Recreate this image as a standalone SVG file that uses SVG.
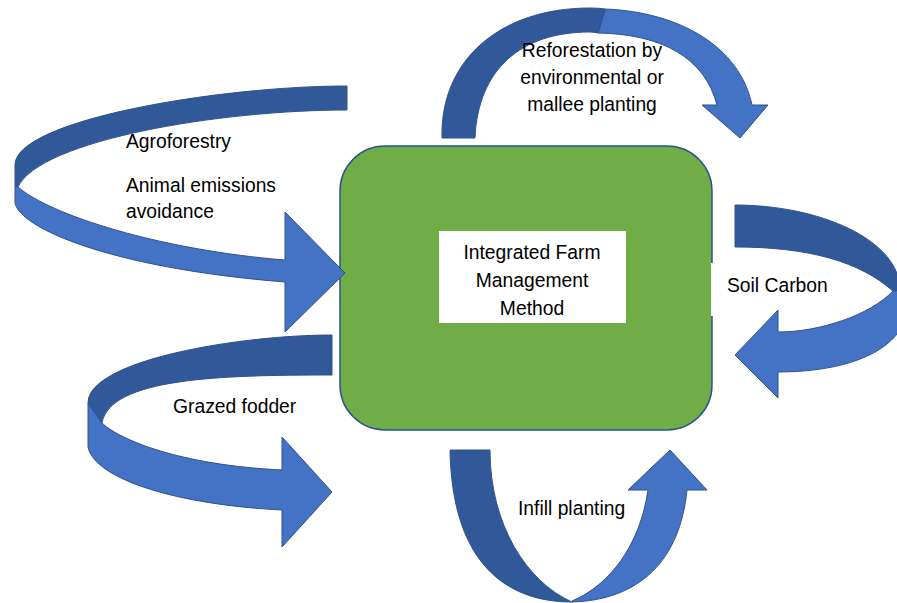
<svg xmlns="http://www.w3.org/2000/svg" width="897" height="603" viewBox="0 0 897 603">
<style>
.dark{fill:#31599A;stroke:#2F528F;stroke-width:1;stroke-linejoin:round}
.light{fill:#4472C4;stroke:#2F528F;stroke-width:1;stroke-linejoin:round}
.lbl{font-family:"Liberation Sans",Arial,sans-serif;font-size:19.3px;fill:#000}
.mid{text-anchor:middle}
</style>
<rect width="897" height="603" fill="#fff"/>
<g id="farm">
<rect x="340" y="146" width="372" height="284" rx="45" ry="45" fill="#70AD47" stroke="#2F528F" stroke-width="1.5"/>
<rect x="439" y="231" width="187" height="92" fill="#fff"/>
<text class="lbl mid" x="532" y="259">Integrated Farm</text>
<text class="lbl mid" x="532" y="287">Management</text>
<text class="lbl mid" x="532" y="315">Method</text>
</g>
<g id="connectors">
<g id="arrow-agroforestry">
<path class="light" d="M15,185 L15,203 C20,228 110,268 285,282 L285,332 L345,273 L285,212 L285,260 C160,250 50,215 18,187 Z"/>
<path class="dark" d="M347,86 C220,86 15,120 15,165 L15,185 L18,187 C40,140 220,110 347,110 Z"/>
</g>
<g id="arrow-grazed">
<path class="light" d="M88,403 L88,447 C95,480 180,505 282,510 L282,547 L332,492 L282,437 L282,470 C180,465 120,440 102,423 Z"/>
<path class="dark" d="M332,335 C240,335 88,360 88,403 L102,423 C110,378 220,375 332,375 Z"/>
</g>
<g id="arrow-reforestation">
<path class="light" d="M605,9 C680,12 740,47 752,105 L768,105 L740,138 L702,105 L717,105 C705,58 662,34 598,33 Z"/>
<path class="dark" d="M442,138 C440,60 500,8 590,8 Q600,8 605,9 L598,33 Q594,32 590,32 C520,32 478,70 475,138 Z"/>
</g>
<g id="soil-bg"><rect x="711" y="263" width="110" height="53" fill="#fff"/></g>
<g id="arrow-soil">
<path class="light" d="M900,290 L900,330 C880,360 830,372 778,372 L778,398 L735,355 L778,310 L778,332 C820,332 870,315 893,291 Z"/>
<path class="dark" d="M735,205 C820,205 900,240 900,290 L893,291 C860,262 810,247 735,247 Z"/>
</g>
<g id="arrow-infill">
<path class="light" d="M572,602 C640,600 680,560 687,490 L707,490 L670,450 L628,490 L648,490 C640,545 610,585 572,601 Z"/>
<path class="dark" d="M450,450 C452,562 505,602 572,602 C527,582 490,525 490,450 Z"/>
</g>
</g>
<g id="labels">
<text class="lbl" x="126" y="148">Agroforestry</text>
<text class="lbl" x="126" y="192">Animal emissions</text>
<text class="lbl" x="126" y="218">avoidance</text>
<text class="lbl mid" x="592" y="57">Reforestation by</text>
<text class="lbl mid" x="592" y="84">environmental or</text>
<text class="lbl mid" x="592" y="111">mallee planting</text>
<text class="lbl" x="727" y="292">Soil Carbon</text>
<text class="lbl" x="173" y="413">Grazed fodder</text>
<text class="lbl" x="518" y="515">Infill planting</text>
</g>
</svg>
